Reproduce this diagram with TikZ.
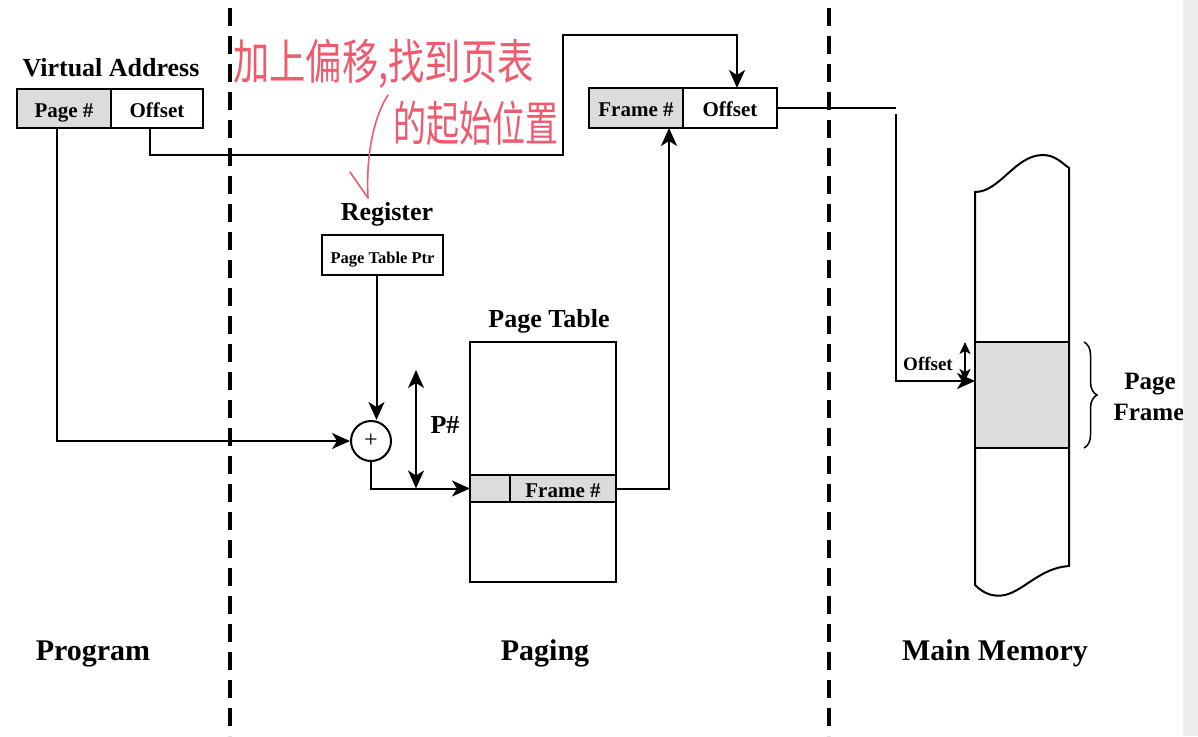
\documentclass[tikz,border=0pt]{standalone}
\usepackage{fontspec}
\setmainfont{Liberation Serif}
\newfontfamily\cjk{Noto Sans CJK SC}
\usetikzlibrary{arrows.meta,calc,decorations.pathreplacing}
\definecolor{cellgrey}{HTML}{DCDCDC}
\definecolor{penred}{HTML}{EE5A6E}
\definecolor{stripgrey}{HTML}{ECEEF0}
\begin{document}
\begin{tikzpicture}[x=1pt,y=-1pt,
  cell/.style={draw=black,line width=2.4pt,outer sep=0pt,inner sep=0pt,anchor=north west,
    text height=17pt,text depth=0pt,font=\fontsize{21}{24}\selectfont\bfseries},
  lbl/.style={font=\fontsize{26}{30}\selectfont\bfseries,inner sep=0pt,anchor=base},
  big/.style={font=\fontsize{30}{34}\selectfont\bfseries,inner sep=0pt,anchor=base},
  conn/.style={line width=2pt,-{Stealth[length=18pt,width=16pt,inset=5pt]}},
  dconn/.style={line width=2pt,{Stealth[length=18pt,width=16pt,inset=5pt]}-{Stealth[length=18pt,width=16pt,inset=5pt]}},
  sconn/.style={line width=2pt,{Stealth[length=12pt,width=11pt,inset=3pt]}-{Stealth[length=12pt,width=11pt,inset=3pt]}},
  line/.style={line width=2pt},
  divider/.style={line width=4pt,dash pattern=on 18pt off 10pt},
  pen/.style={penred,line width=1.6pt,line cap=round,line join=round},
  note/.style={text=penred,font=\cjk\fontsize{33}{36}\selectfont,inner sep=0pt,anchor=west}]
\useasboundingbox (0,0) rectangle (1198,736);
\fill[white] (0,0) rectangle (1198,736);

% dashed dividers
\draw[divider] (230,8) -- (230,736);
\draw[divider] (829,8) -- (829,736);

% Virtual address
\node[lbl] (valbl) at (111,76) {Virtual Address};
\node[cell,fill=cellgrey,minimum width=94pt,minimum height=39pt] (vpage) at (17,89) {Page \#};
\node[cell,fill=white,minimum width=92pt,minimum height=39pt] (voff) at (vpage.north east) {Offset};

% Physical address
\node[cell,fill=cellgrey,minimum width=94pt,minimum height=40pt] (fframe) at (589,88) {Frame \#};
\node[cell,fill=white,minimum width=94pt,minimum height=40pt] (foff) at (fframe.north east) {Offset};

% Register
\node[lbl] (reglbl) at (387,220) {Register};
\node[cell,fill=white,minimum width=121pt,minimum height=40pt,font=\fontsize{16.5}{20}\selectfont\bfseries] (reg) at (322,235) {Page Table Ptr};

% adder
\node[draw,circle,line width=2pt,minimum size=40pt,inner sep=0pt,fill=white,font=\fontsize{24}{26}\selectfont] (plus) at (371,441) {+};

% Page table
\node[lbl] (ptlbl) at (549,327) {Page Table};
\node[cell,fill=white,minimum width=146pt,minimum height=240pt] (pt) at (470,342) {};
\node[cell,fill=cellgrey,minimum width=40pt,minimum height=27pt] (ptl) at (470,475) {};
\node[cell,fill=cellgrey,minimum width=106pt,minimum height=27pt] (ptf) at (ptl.north east) {Frame \#};
\node[lbl] (pnum) at (445,433) {P\#};

% Main memory
\draw[line width=2pt,fill=white] (975,192) .. controls (1000,192) and (1015,155) .. (1043,155)
  .. controls (1055,155) and (1062,163) .. (1069,168) -- (1069,566)
  .. controls (1040,568) and (1025,590) .. (1005,595)
  .. controls (995,597) and (985,595) .. (975,585) -- cycle;
\node[cell,fill=cellgrey,minimum width=94pt,minimum height=106pt,line width=2pt] (mframe) at (975,342) {};
\node[font=\fontsize{19}{22}\selectfont\bfseries,inner sep=0pt,anchor=base] (moff) at (928,370) {Offset};
\draw[line width=1.5pt,decorate,decoration={brace,amplitude=13pt}] (1084,342) -- (1084,448);
\node[font=\fontsize{25}{30}\selectfont\bfseries,inner sep=0pt,anchor=base] (pf1) at (1150,389) {Page};
\node[font=\fontsize{25}{30}\selectfont\bfseries,inner sep=0pt,anchor=base] (pf2) at (1149,420) {Frame};

% connectors
\draw[conn] ([xshift=-7pt]vpage.south) |- (plus.west);
\coordinate (r1) at (563,155);
\coordinate (r2) at (563,35);
\draw[conn] ([xshift=-7pt]voff.south) |- (r1) -- (r2) -| ([xshift=7pt]foff.north);
\coordinate (rs) at ($(reg.south)+(-6,0)$);
\draw[conn] (rs) -- (rs |- plus.north);
\draw[conn] (plus.south) |- (ptl.west);
\coordinate (pa) at (416,370);
\draw[dconn] (pa) -- (pa |- ptl.west);
\draw[conn] (ptf.east) -| ([xshift=33pt]fframe.south);
\coordinate (c1) at (896,108);
\coordinate (c2) at (896,114);
\draw[line] (foff.east) -- (c1);
\draw[conn] (c2) |- ([yshift=14pt]mframe.west);
\draw[sconn] ([xshift=-10pt]mframe.north west) -- ([xshift=-10pt,yshift=14pt]mframe.west);

% bottom labels
\node[big] (prog) at (93,660) {Program};
\node[big] (pag) at (545,660) {Paging};
\node[big] (mm) at (995,660) {Main Memory};

% right grey strip
\fill[stripgrey] (1183,0) rectangle (1198,736);

% red handwritten note
\node[note,xscale=1.1,yscale=1.45] (note1) at (233,64) {加上偏移,找到页表};
\node[note,yscale=1.45] (note2) at (393,123) {的起始位置};
\draw[pen] (388,95) .. controls (372,120) and (366,160) .. (368,198);
\draw[pen] (350,172) -- (368,198);
\end{tikzpicture}
\end{document}
